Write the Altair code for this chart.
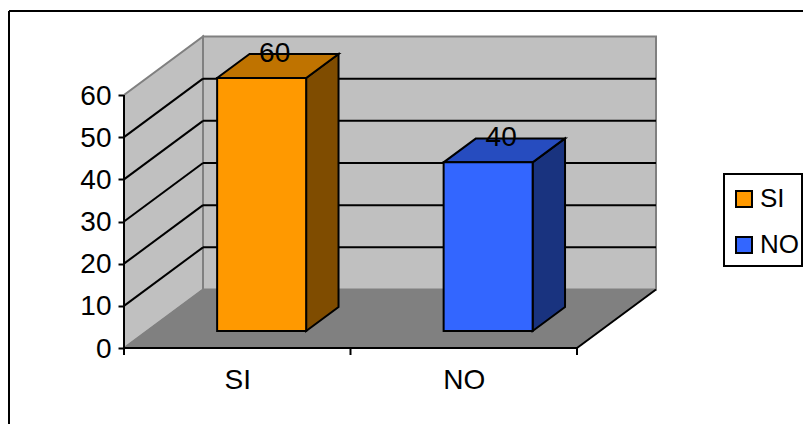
import json
import altair as alt

categories = ["SI", "NO"]
values = [60, 40]
front_colors = ["#FF9900", "#3366FF"]
side_colors = ["#7F4C00", "#19337F"]
top_colors = ["#BF7300", "#264CBF"]
axis_ticks = [0, 10, 20, 30, 40, 50, 60]
grid_ticks = [10, 20, 30, 40, 50]

# projection of the oblique 3D box, in slot / value units
PX_SLOT = 226.5
PX_VALUE = 253 / 60
PLOT_W, PLOT_H = 679, 340
BOTTOM = 76
FS = 28
LEGEND_FS = 26
DX = 79 / PX_SLOT      # slots moved across full depth
DY = 58.5 / PX_VALUE   # value units moved across full depth
D0, D1 = 0.29, 0.70    # bar depth range
B0, BW = 0.31, 0.393   # bar start / width within a slot
VMAX = 60
N = len(categories)

xs = alt.Scale(domain=[0, PLOT_W / PX_SLOT], nice=False, zero=False)
ys = alt.Scale(domain=[0, PLOT_H / PX_VALUE], nice=False, zero=False)
x_axis = alt.Axis(values=[i + 0.5 for i in range(N)],
                  labelExpr=json.dumps(categories) + "[floor(datum.value)]",
                  ticks=False, domain=False, grid=False, labelFontSize=FS,
                  labelFont="Liberation Sans", labelColor="black",
                  labelPadding=18, labelOverlap=False, labelFlush=False)
y_axis_def = alt.Axis(values=axis_ticks, domain=False, grid=False, tickSize=6,
                      tickColor="black", tickWidth=2, labelFontSize=FS,
                      labelFont="Liberation Sans", labelColor="black", labelOffset=1,
                      labelPadding=7, labelOverlap=False, labelFlush=False)
X = lambda f="x": alt.X(f, type="quantitative", scale=xs, axis=x_axis, title=None)
Y = lambda f="y": alt.Y(f, type="quantitative", scale=ys, axis=y_axis_def, title=None)
df = lambda rows: alt.Data(values=rows)

GRAY = "#808080"
LW = 2

back_wall = alt.Chart(df([{"x": DX, "x2": N + DX, "y": DY, "y2": VMAX + DY}])).mark_rect(
    fill="#C0C0C0", stroke=GRAY, strokeWidth=LW
).encode(x=X(), x2="x2:Q", y=Y(), y2="y2:Q")

left_wall = alt.Chart(df([
    {"x": 0, "y": 0, "y2": VMAX},
    {"x": DX, "y": DY, "y2": VMAX + DY},
])).mark_area(fill="#C0C0C0", stroke=GRAY, strokeWidth=LW, orient="vertical").encode(
    x=X(), y=Y(), y2="y2:Q"
)

floor = alt.Chart(df([
    {"y": 0, "x": 0, "x2": N},
    {"y": DY, "x": DX, "x2": N + DX},
])).mark_area(fill=GRAY, stroke=GRAY, strokeWidth=1, orient="horizontal").encode(
    y=Y(), x=X(), x2="x2:Q"
)

floor_edge = alt.Chart(df([{"x": N, "y": 0}, {"x": N + DX, "y": DY}])).mark_line(
    color="black", strokeWidth=LW
).encode(x=X(), y=Y())

back_grid = alt.Chart(df([{"x": DX, "x2": N + DX, "y": v + DY} for v in grid_ticks])).mark_rule(
    color="black", strokeWidth=LW
).encode(x=X(), x2="x2:Q", y=Y())

side_rows = []
for v in grid_ticks:
    side_rows += [{"x": 0, "y": v, "k": v}, {"x": DX, "y": v + DY, "k": v}]
side_grid = alt.Chart(df(side_rows)).mark_line(color="black", strokeWidth=LW).encode(
    x=X(), y=Y(), detail="k:N"
)

y_line = alt.Chart(df([{"x": 0, "y": 0, "y2": VMAX}])).mark_rule(color="black", strokeWidth=LW).encode(
    x=X(), y=Y(), y2="y2:Q",
)
x_base = alt.Chart(df([{"x": 0, "x2": N, "y": 0}])).mark_rule(color="black", strokeWidth=2).encode(
    x=X(), x2="x2:Q", y=Y()
)
x_ticks = alt.Chart(df([{"x": i} for i in range(N + 1)])).mark_rule(color="black", strokeWidth=LW).encode(
    x=X(), y=alt.value(PLOT_H), y2=alt.value(PLOT_H + 7)
)

layers = [back_wall, left_wall, floor, floor_edge, back_grid, side_grid]
front_rows, label_rows = [], []
for i, (cat, v) in enumerate(zip(categories, values)):
    x0 = i + B0
    x1 = x0 + BW
    fx0, fx1 = x0 + D0 * DX, x1 + D0 * DX
    bx0, bx1 = x0 + D1 * DX, x1 + D1 * DX
    fy0, fy1 = D0 * DY, v + D0 * DY
    by0, by1 = D1 * DY, v + D1 * DY
    layers.append(alt.Chart(df([
        {"x": fx1, "y": fy0, "y2": fy1},
        {"x": bx1, "y": by0, "y2": by1},
    ])).mark_area(fill=side_colors[i], stroke="black", strokeWidth=LW, orient="vertical").encode(
        x=X(), y=Y(), y2="y2:Q"))
    layers.append(alt.Chart(df([
        {"y": fy1, "x": fx0, "x2": fx1},
        {"y": by1, "x": bx0, "x2": bx1},
    ])).mark_area(fill=top_colors[i], stroke="black", strokeWidth=LW, orient="horizontal").encode(
        y=Y(), x=X(), x2="x2:Q"))
    front_rows.append({"cat": cat, "x": fx0, "x2": fx1, "y": fy0, "y2": fy1})
    label_rows.append({"x": (fx0 + fx1) / 2 + 13 / PX_SLOT, "y": by1, "label": str(v)})

front = alt.Chart(df(front_rows)).mark_rect(stroke="black", strokeWidth=LW).encode(
    x=X(), x2="x2:Q", y=Y(), y2="y2:Q",
    color=alt.Color("cat:N", scale=alt.Scale(domain=categories, range=front_colors), sort=categories,
                    legend=alt.Legend(title=None, orient="none", legendX=600, legendY=171,
                                      symbolType="square", symbolSize=256,
                                      symbolStrokeColor="black", symbolStrokeWidth=LW,
                                      labelFontSize=LEGEND_FS, labelFont="Liberation Sans", labelColor="black",
                                      labelOffset=3, rowPadding=20, padding=7)),
)
labels = alt.Chart(df(label_rows)).mark_text(
    fontSize=FS, font="Liberation Sans", color="black", baseline="middle", align="center"
).encode(x=X(), y=Y(), text="label:N")

frame_top = alt.Chart(df([{"k": 0}])).mark_rule(color="black", strokeWidth=2).encode(
    x=alt.value(-115), x2=alt.value(PLOT_W), y=alt.value(3))
frame_left = alt.Chart(df([{"k": 0}])).mark_rule(color="black", strokeWidth=2).encode(
    x=alt.value(-115), y=alt.value(3), y2=alt.value(PLOT_H + BOTTOM))
legend_box = alt.Chart(df([{"k": 0}])).mark_rect(fill="white", stroke="black", strokeWidth=LW).encode(
    x=alt.value(600), x2=alt.value(PLOT_W - 1), y=alt.value(166), y2=alt.value(258))

layers += [front, labels, x_base, y_line, x_ticks, frame_top, frame_left, legend_box]

chart = alt.layer(*layers).properties(
    width=PLOT_W, height=PLOT_H,
    autosize=alt.AutoSizeParams(type="none", contains="content"),
    padding={"left": 116, "top": 0, "right": 0, "bottom": BOTTOM},
    background="white",
).configure_view(strokeWidth=0)

chart.save("out.html", embed_options={"renderer": "svg", "actions": False})
